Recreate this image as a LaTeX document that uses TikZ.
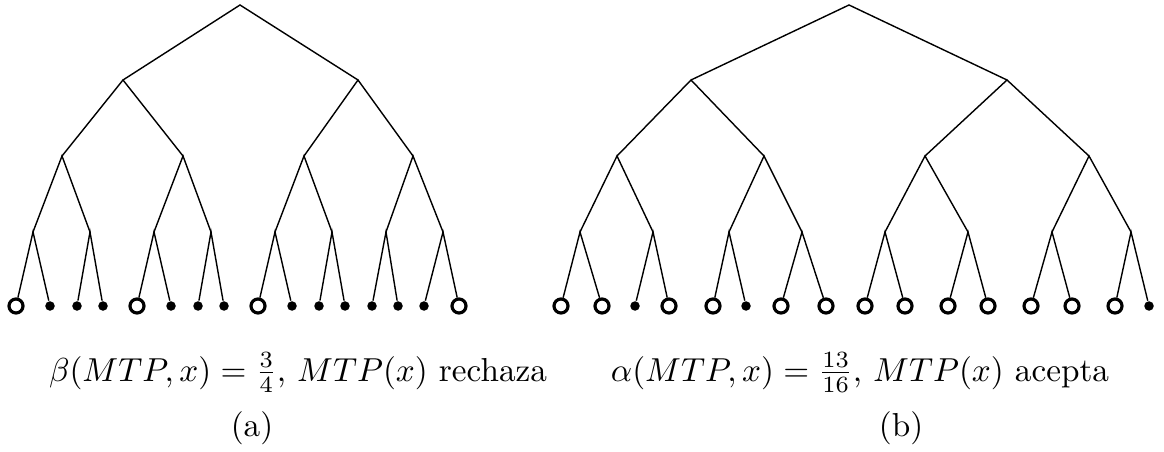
\documentclass[tikz,border=0pt]{standalone}
\usepackage{tikz}
\usetikzlibrary{positioning}
\tikzset{
    line width=0.9pt, % all branches drawn bold
    acc/.style={circle, draw, line width=0.9pt, fill=white, inner sep=0pt, minimum size=0.14cm}, % leaf that accepts
    rej/.style={circle, fill=black, inner sep=0pt, minimum size=0.095cm}, % leaf that rejects
    lbl/.style={anchor=base, inner sep=0pt, scale=0.945, transform shape}, % text under the trees
}
\begin{document}
\begin{tikzpicture}[x=0.01cm, y=-0.01cm]
    \useasboundingbox (0,0) rectangle (1164,452);
    % tree (a)
    \coordinate (a1) at (240,5);
    \coordinate (a2) at (123,80);
    \coordinate (a3) at (358,80);
    \foreach \x [count=\i from 4] in {62,183,304,413}
        \coordinate (a\i) at (\x,156);
    \foreach \x [count=\i from 8] in {33,90,154,211,275,332,386,443}
        \coordinate (a\i) at (\x,232);
    \foreach \x/\s [count=\i from 16] in {16/acc,50/rej,77/rej,103/rej,137/acc,171/rej,198/rej,224/rej,
                                           258/acc,292/rej,319/rej,345/rej,372/rej,398/rej,424/rej,459/acc}
        \node[\s] (a\i) at (\x,306) {};
    % tree (b)
    \coordinate (b1) at (849,5);
    \coordinate (b2) at (691,80);
    \coordinate (b3) at (1007,80);
    \foreach \x [count=\i from 4] in {617,764,925,1089}
        \coordinate (b\i) at (\x,156);
    \foreach \x [count=\i from 8] in {580,653,729,802,885,968,1052,1131}
        \coordinate (b\i) at (\x,232);
    \foreach \x/\s [count=\i from 16] in {561/acc,602/acc,635/rej,669/acc,713/acc,746/rej,781/acc,826/acc,
                                           865/acc,905/acc,948/acc,988/acc,1031/acc,1072/acc,1115/acc,1149/rej}
        \node[\s] (b\i) at (\x,306) {};
    % branches
    \foreach \t in {a,b}
        \foreach \i in {1,...,15} {
            \pgfmathtruncatemacro{\l}{2*\i}
            \pgfmathtruncatemacro{\r}{2*\i+1}
            \draw (\t\l) -- (\t\i) -- (\t\r);
        }
    % labels
    \node[lbl] (capa) at (298,381) {$\beta(MTP,x)=\frac{3}{4}$, $MTP(x)$ rechaza};
    \node[lbl] (suba) at (252,436) {(a)};
    \node[lbl] (capb) at (860,381) {$\alpha(MTP,x)=\frac{13}{16}$, $MTP(x)$ acepta};
    \node[lbl] (subb) at (901,436) {(b)};
\end{tikzpicture}
\end{document}
